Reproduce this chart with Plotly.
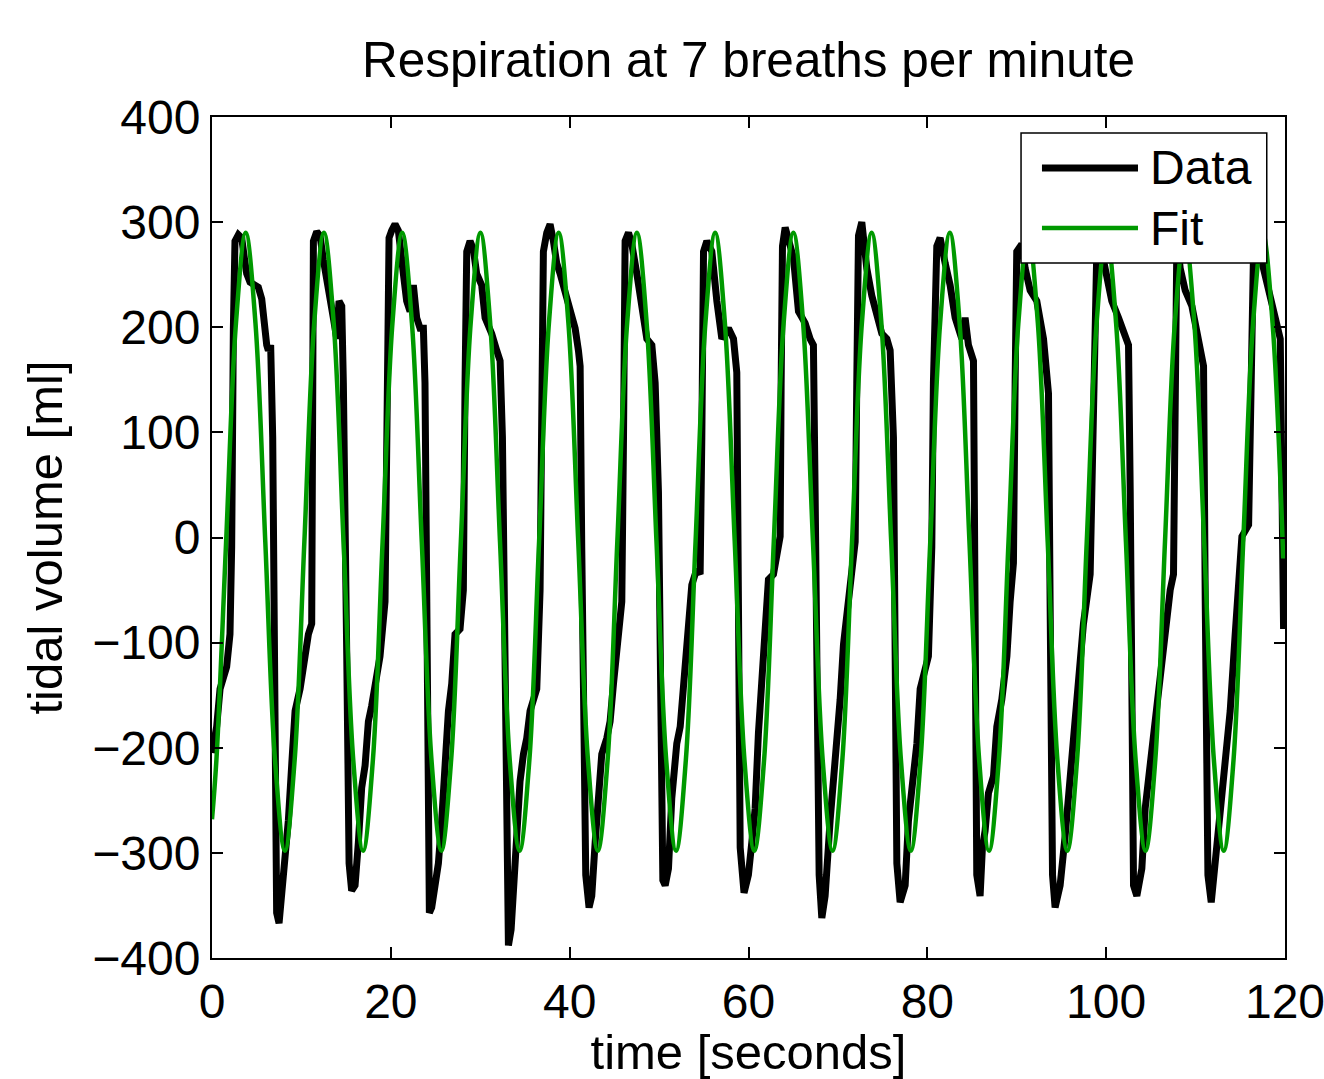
import plotly.graph_objects as go

# ---------------- data ----------------
data_t = [0.0, 0.52, 0.9, 1.27, 1.64, 2.01, 2.2, 2.39, 2.57, 2.95, 3.32, 3.62, 3.88, 4.25, 5.18, 5.56, 5.85, 6.12, 6.3, 6.56,
          6.79, 6.94, 7.05, 7.23, 7.5, 7.79, 8.17, 8.54, 8.91, 9.29, 9.85, 10.4, 10.78, 11.15, 11.26, 11.34, 11.71, 12.08,
          12.46, 13.01, 13.57, 13.95, 14.21, 14.51, 14.69, 15.07, 15.33, 15.62, 16.0, 16.37, 16.74, 17.12, 17.49, 17.86,
          18.23, 18.79, 19.35, 19.6, 19.8, 20.1, 20.47, 20.84, 21.03, 21.4, 21.77, 22.15, 22.52, 22.89, 23.27, 23.64,
          23.82, 24.01, 24.12, 24.31, 24.57, 24.94, 25.32, 25.69, 26.06, 26.44, 26.81, 27.18, 27.74, 28.11, 28.3, 28.49,
          28.86, 29.23, 29.6, 30.16, 30.54, 31.28, 31.84, 32.22, 32.48, 32.7, 32.96, 33.15, 33.45, 33.71, 34.08, 34.45,
          34.83, 35.2, 35.57, 35.94, 36.32, 36.69, 36.88, 37.06, 37.44, 37.81, 38.18, 38.55, 38.93, 39.49, 40.05, 40.61,
          40.98, 41.17, 41.35, 41.54, 41.8, 42.17, 42.47, 42.85, 43.22, 43.59, 44.15, 44.52, 44.9, 45.46, 45.83, 46.02,
          46.2, 46.58, 46.95, 47.51, 48.07, 48.63, 49.19, 49.56, 49.93, 50.12, 50.3, 50.42, 50.68, 51.05, 51.42, 51.98,
          52.36, 52.73, 53.1, 53.66, 54.22, 54.59, 54.78, 54.97, 55.34, 55.9, 56.46, 57.02, 57.76, 58.32, 58.69, 58.88,
          59.07, 59.5, 59.99, 60.37, 60.74, 61.11, 61.48, 61.86, 62.23, 62.79, 63.16, 63.54, 63.65, 63.8, 64.1, 64.47,
          65.03, 65.59, 66.33, 66.89, 67.26, 67.45, 67.64, 67.9, 68.2, 68.57, 69.13, 69.69, 70.25, 70.62, 71.18, 71.55,
          71.93, 72.11, 72.3, 72.67, 73.23, 73.79, 74.35, 74.91, 75.47, 75.84, 76.21, 76.4, 76.59, 76.96, 77.52, 77.89,
          78.27, 78.83, 79.2, 79.76, 80.12, 80.5, 80.68, 81.06, 81.43, 81.99, 82.55, 83.11, 83.85, 84.22, 84.6, 85.16,
          85.34, 85.53, 85.9, 86.16, 86.46, 86.84, 87.4, 87.77, 88.33, 88.9, 89.26, 89.63, 89.82, 90.0, 90.56, 90.94,
          91.5, 92.24, 92.99, 93.55, 93.73, 94.0, 94.29, 94.85, 95.41, 95.97, 96.53, 96.9, 97.46, 98.21, 98.58, 98.95,
          99.33, 99.89, 100.63, 101.38, 102.13, 102.5, 102.69, 102.87, 103.06, 103.43, 103.99, 104.36, 104.92, 105.48,
          106.04, 106.6, 107.16, 107.53, 107.72, 107.91, 108.28, 108.84, 109.59, 110.33, 110.89, 111.08, 111.38, 111.75,
          112.2, 112.76, 113.31, 113.87, 114.43, 114.81, 115.18, 115.93, 116.3, 116.48, 116.86, 117.42, 118.16, 118.91,
          119.47, 119.65, 119.84]
data_v = [-205, -180, -144, -134, -123, -92, -9, 199, 282, 288, 285, 266, 251, 243, 238, 227, 199, 183, 178, 183,
          95, -113, -295, -357, -367, -341, -315, -269, -217, -165, -144, -113, -92, -82, 147, 282, 291, 287,
          264, 240, 209, 189, 225, 220, 147, -113, -310, -336, -331, -290, -238, -217, -175, -160,
          -139, -113, -61, 147, 285, 292, 298, 292, 272, 251, 225, 215, 240, 209, 199, 199,
          147, -113, -331, -357, -352, -331, -310, -269, -206, -165, -139, -92, -87, -50, 147, 272,
          282, 274, 251, 240, 209, 194, 178, 168, 95, -113, -347, -388, -373, -331, -290, -232,
          -206, -191, -165, -154, -144, -50, 95, 272, 290, 298, 282, 261, 251, 235, 215, 199,
          178, 163, -9, -217, -321, -352, -341, -290, -243, -206, -191, -175, -139, -82, -61, 95,
          282, 290, 279, 251, 215, 189, 183, 147, 43, -61, -217, -326, -331, -315, -248, -196,
          -180, -139, -87, -45, -30, -35, 95, 272, 282, 272, 225, 189, 199, 189, 157, -61,
          -295, -338, -321, -290, -258, -186, -144, -102, -40, -35, -19, 1, 147, 277, 295, 282,
          266, 215, 204, 189, 183, 43, -165, -321, -362, -341, -269, -217, -154, -102, -61, -30,
          -4, 147, 287, 300, 256, 230, 209, 194, 189, 178, 95, -113, -310, -347, -331, -269,
          -238, -196, -144, -123, -113, -9, 147, 277, 285, 261, 240, 209, 189, 209, 183, 168,
          -61, -321, -341, -295, -279, -243, -227, -180, -154, -113, -61, -24, 147, 272, 279, 256,
          235, 225, 189, 137, -61, -321, -352, -331, -284, -232, -175, -134, -82, -35, 95, 272,
          279, 256, 225, 209, 189, 183, 43, -165, -331, -341, -315, -258, -217, -165,
          -128, -92, -50, -35, 147, 285, 256, 235, 220, 189, 163, -61, -321, -347,
          -310, -248, -206, -165, -92, -50, 1, 12, 147, 272, 282, 261, 230, 209,
          189, 43, -87]

fit_t = [0.0, 0.49, 1.58, 2.68,
         3.77, 4.86, 5.96, 7.05, 8.15, 9.24, 10.33, 11.43,
         12.52, 13.61, 14.71, 15.80, 16.90, 17.99, 19.08, 20.18,
         21.27, 22.36, 23.46, 24.55, 25.65, 26.74, 27.83, 28.93,
         30.02, 31.11, 32.21, 33.30, 34.40, 35.49, 36.58, 37.68,
         38.77, 39.86, 40.96, 42.05, 43.15, 44.24, 45.33, 46.43,
         47.52, 48.61, 49.71, 50.80, 51.90, 52.99, 54.08, 55.18,
         56.27, 57.36, 58.46, 59.55, 60.65, 61.74, 62.83, 63.93,
         65.02, 66.11, 67.21, 68.30, 69.40, 70.49, 71.58, 72.68,
         73.77, 74.86, 75.96, 77.05, 78.15, 79.24, 80.33, 81.43,
         82.52, 83.61, 84.71, 85.80, 86.90, 87.99, 89.08, 90.18,
         91.27, 92.36, 93.46, 94.55, 95.65, 96.74, 97.83, 98.93,
         100.02, 101.11, 102.21, 103.30, 104.40, 105.49, 106.58, 107.68,
         108.77, 109.86, 110.96, 112.05, 113.15, 114.24, 115.33, 116.43,
         117.52, 118.61, 119.8]
fit_v = [-268, -212, -4, 204,
         290, 204, -4, -212, -298, -212, -4, 204,
         290, 204, -4, -212, -298, -212, -4, 204,
         290, 204, -4, -212, -298, -212, -4, 204,
         290, 204, -4, -212, -298, -212, -4, 204,
         290, 204, -4, -212, -298, -212, -4, 204,
         290, 204, -4, -212, -298, -212, -4, 204,
         290, 204, -4, -212, -298, -212, -4, 204,
         290, 204, -4, -212, -298, -212, -4, 204,
         290, 204, -4, -212, -298, -212, -4, 204,
         290, 204, -4, -212, -298, -212, -4, 204,
         290, 204, -4, -212, -298, -212, -4, 204,
         290, 204, -4, -212, -298, -212, -4, 204,
         290, 204, -4, -212, -298, -212, -4, 204,
         290, 204, -20]

x_ticks = [0, 20, 40, 60, 80, 100, 120]
y_ticks = [-400, -300, -200, -100, 0, 100, 200, 300, 400]
title_text = "Respiration at 7 breaths per minute"
x_label = "time [seconds]"
y_label = "tidal volume [ml]"
legend_labels = ["Data", "Fit"]

DATA_COLOR = "#000000"
FIT_COLOR = "#009900"
FONT = "Liberation Sans, Arial, Helvetica, sans-serif"

fig = go.Figure()
fig.add_trace(go.Scatter(x=data_t, y=data_v, mode="lines", name=legend_labels[0],
                         line=dict(color=DATA_COLOR, width=7), showlegend=False))
fig.add_trace(go.Scatter(x=fit_t, y=fit_v, mode="lines", name=legend_labels[1],
                         line=dict(color=FIT_COLOR, width=4.5, shape="spline", smoothing=1),
                         showlegend=False))

axis_common = dict(
    showline=True, linecolor="black", linewidth=2, mirror="ticks",
    ticks="inside", ticklen=11, tickwidth=1.5, tickcolor="black",
    showgrid=False, zeroline=False, ticklabeloverflow="allow",
    tickfont=dict(family=FONT, size=48, color="black"),
)

fig.update_xaxes(range=[0, 120], tickvals=x_ticks, ticktext=[str(v) for v in x_ticks],
                 title=dict(text=x_label, font=dict(family=FONT, size=49, color="black"), standoff=0),
                 **axis_common)
fig.update_yaxes(range=[-400, 400], tickvals=y_ticks,
                 title=dict(text=y_label, font=dict(family=FONT, size=49, color="black"), standoff=14),
                 **axis_common)

# legend drawn as a boxed key in the upper-right corner of the plot area
lx0, lx1, ly0, ly1 = 0.754, 0.983, 0.8264, 0.981
shapes = [
    dict(type="rect", xref="paper", yref="paper", x0=lx0, x1=lx1, y0=ly0, y1=ly1,
         fillcolor="white", line=dict(color="black", width=1.5), layer="above"),
    dict(type="line", xref="paper", yref="paper", x0=0.7735, x1=0.863, y0=0.9394, y1=0.9394,
         line=dict(color=DATA_COLOR, width=7), layer="above"),
    dict(type="line", xref="paper", yref="paper", x0=0.7735, x1=0.863, y0=0.868, y1=0.868,
         line=dict(color=FIT_COLOR, width=4.5), layer="above"),
]
annotations = [
    dict(text=legend_labels[0], xref="paper", yref="paper", x=0.872, y=0.9394,
         xanchor="left", yanchor="middle", showarrow=False,
         font=dict(family=FONT, size=48, color="black")),
    dict(text=legend_labels[1], xref="paper", yref="paper", x=0.872, y=0.868,
         xanchor="left", yanchor="middle", showarrow=False,
         font=dict(family=FONT, size=48, color="black")),
]

fig.update_layout(
    width=1324, height=1079,
    margin=dict(l=212, r=39, t=117, b=121, autoexpand=False),
    paper_bgcolor="white", plot_bgcolor="white",
    title=dict(text=title_text, x=0.5, xref="paper", xanchor="center",
               y=1 - 60 / 1079, yref="container", yanchor="middle",
               font=dict(family=FONT, size=49.5, color="black")),
    shapes=shapes, annotations=annotations,
    showlegend=False,
)

fig.write_html("out.html")
